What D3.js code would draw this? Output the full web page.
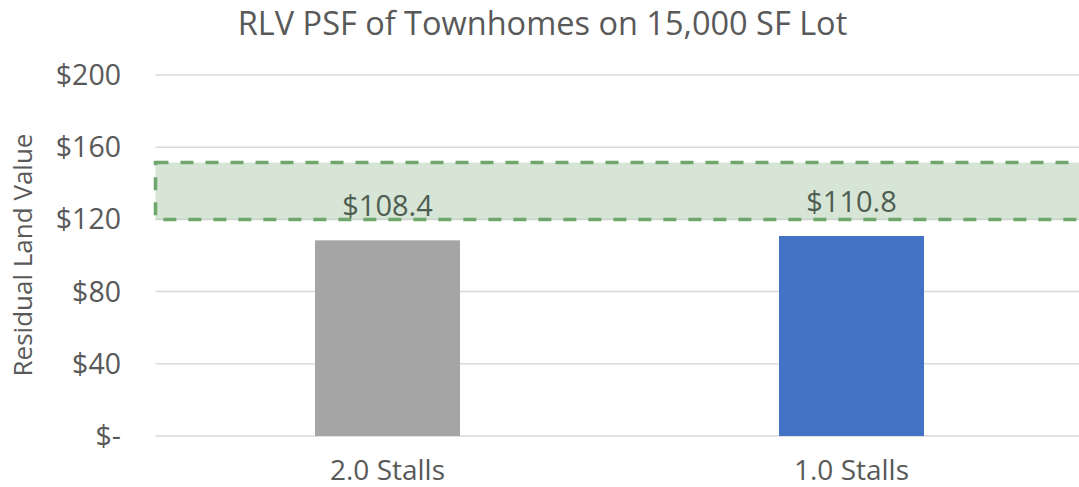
<!DOCTYPE html>
<html>
<head>
<meta charset="utf-8">
<script src="https://cdn.jsdelivr.net/npm/d3@7"></script>
<style>
  html, body { margin: 0; padding: 0; background: #fff; }
  svg { display: block; }
  text { font-family: "Open Sans", "Liberation Sans", sans-serif; }
</style>
</head>
<body>
<svg id="chart" width="1079" height="487"></svg>
<script>
// ---- data ----
const categories = ["2.0 Stalls", "1.0 Stalls"];
const values = [108.4, 110.8];
const barColors = ["#A5A5A5", "#4472C4"];
const yTicks = [0, 40, 80, 120, 160, 200];
const yTickLabels = ["$-", "$40", "$80", "$120", "$160", "$200"];
const targetBand = [120, 151.5];
const titleText = "RLV PSF of Townhomes on 15,000 SF Lot";
const yAxisTitle = "Residual Land Value";

// ---- layout ----
const W = 1079, H = 487;
const plot = { left: 155.5, right: 1083.5, top: 75, bottom: 436 };

const svg = d3.select("#chart");

const x = d3.scaleBand()
  .domain(categories)
  .range([plot.left, plot.right])
  .paddingInner(0.6875)
  .paddingOuter(0.34375);

const y = d3.scaleLinear()
  .domain([0, 200])
  .range([plot.bottom, plot.top]);

// title
svg.append("text")
  .attr("x", 542.5).attr("y", 35)
  .attr("text-anchor", "middle")
  .attr("font-size", 32.5)
  .attr("fill", "#595959")
  .text(titleText);

// gridlines
svg.append("g").selectAll("line")
  .data(yTicks).join("line")
  .attr("x1", plot.left).attr("x2", W)
  .attr("y1", d => y(d)).attr("y2", d => y(d))
  .attr("stroke", "#D9D9D9").attr("stroke-width", 1.5);

// y tick labels
svg.append("g").selectAll("text")
  .data(yTicks).join("text")
  .attr("x", 121).attr("y", d => y(d))
  .attr("dy", "0.35em")
  .attr("text-anchor", "end")
  .attr("font-size", 28.5)
  .attr("fill", "#595959")
  .text((d, i) => yTickLabels[i]);

// y axis title
svg.append("text")
  .attr("transform", `translate(32,${(130 + 380) / 2}) rotate(-90)`)
  .attr("text-anchor", "middle")
  .attr("font-size", 26)
  .attr("fill", "#595959")
  .text(yAxisTitle);

// bars
svg.append("g").selectAll("rect")
  .data(values).join("rect")
  .attr("x", (d, i) => x(categories[i]))
  .attr("width", x.bandwidth())
  .attr("y", d => y(d))
  .attr("height", d => y(0) - y(d))
  .attr("fill", (d, i) => barColors[i]);

// target band
svg.append("rect")
  .attr("x", plot.left)
  .attr("width", 1100 - plot.left)
  .attr("y", y(targetBand[1]))
  .attr("height", y(targetBand[0]) - y(targetBand[1]))
  .attr("fill", "rgb(120,170,120)")
  .attr("fill-opacity", 0.3)
  .attr("stroke", "#6EA66C")
  .attr("stroke-width", 3.5)
  .attr("stroke-dasharray", "13,12");

// data labels
svg.append("g").selectAll("text")
  .data(values).join("text")
  .attr("x", (d, i) => x(categories[i]) + x.bandwidth() / 2)
  .attr("y", d => y(d) - 24)
  .attr("text-anchor", "middle")
  .attr("font-size", 29)
  .attr("fill", "#4F5D50")
  .text(d => "$" + d.toFixed(1));

// category labels
svg.append("g").selectAll("text")
  .data(categories).join("text")
  .attr("x", d => x(d) + x.bandwidth() / 2)
  .attr("y", 480)
  .attr("text-anchor", "middle")
  .attr("font-size", 28)
  .attr("fill", "#595959")
  .text(d => d);
</script>
</body>
</html>
